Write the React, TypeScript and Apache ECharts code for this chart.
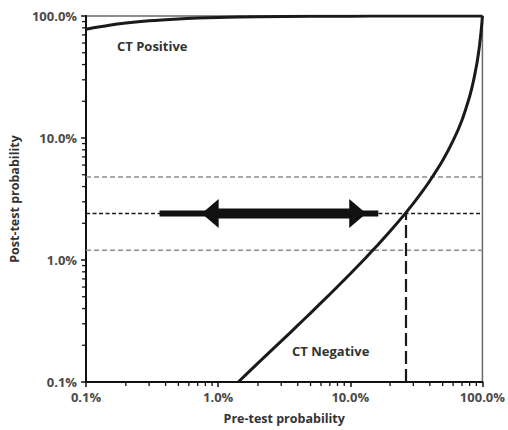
import React, { useEffect, useRef } from "react";
import * as echarts from "echarts";

// Axis tick values (percent)
const minorTickValues = [
  0.2, 0.3, 0.4, 0.5, 0.6, 0.7, 0.8, 0.9,
  2, 3, 4, 5, 6, 7, 8, 9,
  20, 30, 40, 50, 60, 70, 80, 90,
];

// CT Positive curve (pre-test % -> post-test %)
const ctPositivePre = [0.1, 0.15, 0.2, 0.3, 0.5, 0.7, 1, 2, 5, 10, 20, 50, 100];
const ctPositivePost = [78, 84, 87.5, 91.3, 94.6, 96.1, 97.2, 98.6, 99.46, 99.74, 99.89, 99.97, 100];

// CT Negative curve (pre-test % -> post-test %)
const ctNegativePre = [1.42, 2, 3, 4, 5, 7, 10, 13, 16, 20, 26, 30, 35, 40, 50, 60, 70, 80, 85, 90, 93, 95, 97, 98, 99, 99.5, 100];
const ctNegativePost = [0.1, 0.143, 0.216, 0.291, 0.367, 0.524, 0.772, 1.035, 1.316, 1.72, 2.4, 2.91, 3.63, 4.46, 6.54, 9.5, 14.0, 21.9, 28.4, 38.7, 48.2, 57.1, 69.4, 77.4, 87.4, 93.3, 100];

// Reference lines (percent)
const grayLevels = [4.8, 1.2];
const blackLevel = 2.4;
const verticalPre = 26.4;

// Arrow (percent): thin extent and heads' tips, at post-test 2.4%
const arrowThin = [0.36, 16.3];
const arrowTips = [0.75, 13.2];

const FONT = "'Open Sans', 'Noto Sans', sans-serif";

function pct(v: number) {
  return Number(v).toFixed(1) + "%";
}

export default function App() {
  const ref = useRef<HTMLDivElement>(null);
  useEffect(() => {
    if (!ref.current) return;
    const chart = echarts.init(ref.current, undefined, { renderer: "svg" });
    const dashed = (color: string, width: number, dash: number[]) => ({
      color,
      width,
      type: dash,
    });
    const series: any[] = [];
    grayLevels.forEach((lv) => {
      series.push({
        type: "line",
        data: [[0.1, lv], [100, lv]],
        symbol: "none",
        lineStyle: dashed("#8c8c8c", 1.5, [5, 3]),
        silent: true,
        z: 2,
      });
    });
    series.push({
      type: "line",
      data: [[0.1, blackLevel], [100, blackLevel]],
      symbol: "none",
      lineStyle: dashed("#1a1a1a", 1.5, [4, 2.5]),
      silent: true,
      z: 2,
    });
    series.push({
      type: "line",
      data: [[verticalPre, 0.1], [verticalPre, blackLevel]],
      symbol: "none",
      lineStyle: dashed("#1a1a1a", 2.2, [13, 5]),
      silent: true,
      z: 3,
    });
    series.push({
      type: "line",
      name: "CT Positive",
      data: ctPositivePre.map((x, i) => [x, ctPositivePost[i]]),
      symbol: "none",
      smooth: 0.3,
      lineStyle: { color: "#1a1a1a", width: 3 },
      silent: true,
      z: 4,
    });
    series.push({
      type: "line",
      name: "CT Negative",
      data: ctNegativePre.map((x, i) => [x, ctNegativePost[i]]),
      symbol: "none",
      smooth: 0.2,
      lineStyle: { color: "#1a1a1a", width: 3 },
      silent: true,
      z: 4,
    });
    // arrow
    series.push({
      type: "custom",
      silent: true,
      clip: false,
      z: 6,
      data: [[arrowThin[0], arrowThin[1], arrowTips[0], arrowTips[1], blackLevel]],
      renderItem: (params: any, api: any) => {
        const y = api.value(4);
        const t0 = api.coord([api.value(0), y]);
        const t1 = api.coord([api.value(1), y]);
        const h0 = api.coord([api.value(2), y]);
        const h1 = api.coord([api.value(3), y]);
        const cy = t0[1];
        const hl = 17;
        const hh = 14.5;
        const sh = 5;
        const xl = h0[0];
        const xr = h1[0];
        return {
          type: "group",
          children: [
            {
              type: "rect",
              shape: { x: t0[0], y: cy - 3, width: t1[0] - t0[0], height: 6 },
              style: { fill: "#111" },
            },
            {
              type: "polygon",
              shape: {
                points: [
                  [xl, cy],
                  [xl + hl, cy - hh],
                  [xl + hl, cy - sh],
                  [xr - hl, cy - sh],
                  [xr - hl, cy - hh],
                  [xr, cy],
                  [xr - hl, cy + hh],
                  [xr - hl, cy + sh],
                  [xl + hl, cy + sh],
                  [xl + hl, cy + hh],
                ],
              },
              style: { fill: "#111" },
            },
          ],
        };
      },
    });
    // minor ticks x
    series.push({
      type: "custom",
      silent: true,
      clip: false,
      z: 5,
      data: minorTickValues.map((v) => [v, 0.1]),
      renderItem: (params: any, api: any) => {
        const p = api.coord([api.value(0), api.value(1)]);
        return {
          type: "line",
          shape: { x1: p[0], y1: p[1], x2: p[0], y2: p[1] + 4 },
          style: { stroke: "#111", lineWidth: 1.3 },
        };
      },
    });
    // minor ticks y
    series.push({
      type: "custom",
      silent: true,
      clip: false,
      z: 5,
      data: minorTickValues.map((v) => [0.1, v]),
      renderItem: (params: any, api: any) => {
        const p = api.coord([api.value(0), api.value(1)]);
        return {
          type: "line",
          shape: { x1: p[0] - 4, y1: p[1], x2: p[0], y2: p[1] },
          style: { stroke: "#111", lineWidth: 1.3 },
        };
      },
    });

    const labelStyle = {
      color: "#4a4a4a",
      fontWeight: "bold",
      fontSize: 13,
      fontFamily: FONT,
    };
    const nameStyle = { color: "#333", fontWeight: "bold", fontSize: 12.5, fontFamily: FONT };
    chart.setOption({
      animation: false,
      grid: {
        left: 86,
        right: 24,
        top: 16,
        bottom: 48,
        show: true,
        borderColor: "#6a6a6a",
        borderWidth: 1.5,
      },
      xAxis: {
        type: "log",
        logBase: 10,
        min: 0.1,
        max: 100,
        axisLine: { show: true, onZero: false, lineStyle: { color: "#111", width: 2 } },
        axisTick: { show: true, length: 5, lineStyle: { color: "#111", width: 1.5 } },
        splitLine: { show: false },
        minorTick: { show: false },
        axisLabel: { ...labelStyle, formatter: pct, margin: 8 },
        name: "Pre-test probability",
        nameLocation: "middle",
        nameGap: 30,
        nameTextStyle: nameStyle,
      },
      yAxis: {
        type: "log",
        logBase: 10,
        min: 0.1,
        max: 100,
        axisLine: { show: true, onZero: false, lineStyle: { color: "#111", width: 2 } },
        axisTick: { show: true, length: 5, lineStyle: { color: "#111", width: 1.5 } },
        splitLine: { show: false },
        axisLabel: { ...labelStyle, formatter: pct, margin: 9 },
        name: "Post-test probability",
        nameLocation: "middle",
        nameGap: 62,
        nameTextStyle: nameStyle,
      },
      graphic: [
        {
          type: "text",
          left: 117,
          top: 39,
          style: { text: "CT Positive", fill: "#333", font: `bold 13px ${FONT}` },
        },
        {
          type: "text",
          left: 292,
          top: 344,
          style: { text: "CT Negative", fill: "#333", font: `bold 13px ${FONT}` },
        },
      ],
      series,
    });
    return () => chart.dispose();
  }, []);
  return (
    <div
      ref={ref}
      style={{ position: "fixed", left: 0, top: 0, width: 508, height: 430, background: "#fff" }}
    />
  );
}
